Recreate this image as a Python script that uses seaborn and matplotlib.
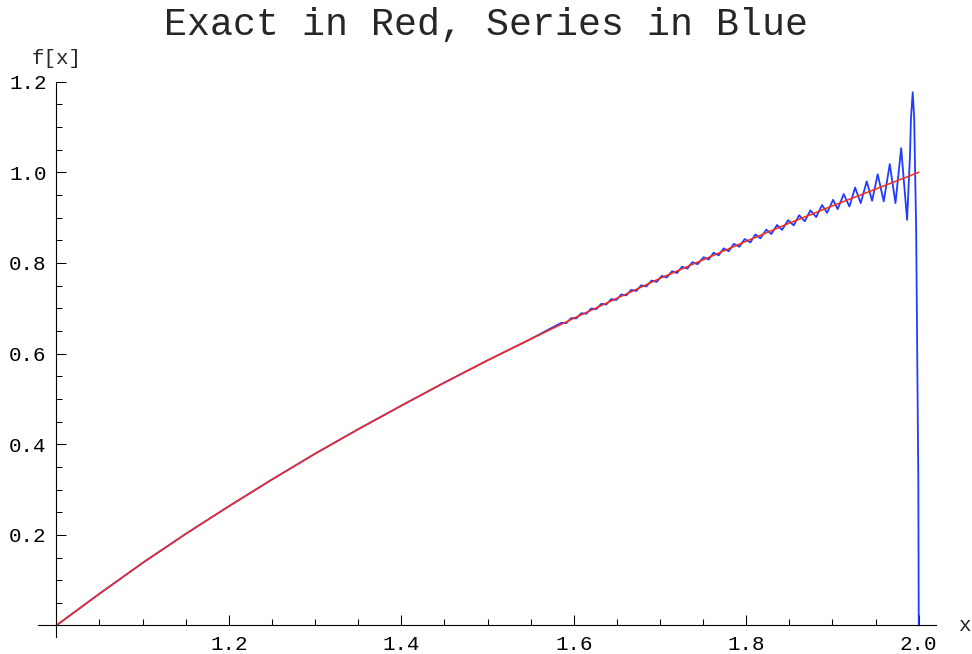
import matplotlib
matplotlib.use('Agg')
import seaborn as sns
import matplotlib.pyplot as plt
from matplotlib.ticker import MultipleLocator


TITLE = 'Exact in Red, Series in Blue'

# exact curve
exact_x = [1.00, 1.05, 1.10, 1.15, 1.20, 1.25, 1.30, 1.35, 1.40, 1.45, 1.50,
           1.55, 1.60, 1.65, 1.70, 1.75, 1.80, 1.85, 1.90, 1.95, 2.00]
exact_y = [0.000, 0.070, 0.138, 0.202, 0.263, 0.322, 0.379, 0.433, 0.485,
           0.536, 0.585, 0.632, 0.678, 0.722, 0.766, 0.807, 0.848, 0.888,
           0.926, 0.963, 1.000]

# series curve (peaks, crossings, troughs)
series_x = [1.00, 1.05, 1.10, 1.15, 1.20, 1.25, 1.30, 1.35, 1.40, 1.45, 1.50,
            1.55,
            1.5855, 1.5884, 1.5913, 1.5942, 1.5971, 1.6000, 1.6029, 1.6058, 1.6087, 1.6116,
            1.6145, 1.6174, 1.6203, 1.6232, 1.6261, 1.6290, 1.6319, 1.6348, 1.6377, 1.6406,
            1.6435, 1.6464, 1.6493, 1.6522, 1.6551, 1.6580, 1.6609, 1.6638, 1.6667, 1.6696,
            1.6725, 1.6754, 1.6783, 1.6812, 1.6841, 1.6872, 1.6903, 1.6932, 1.6961, 1.6991,
            1.7021, 1.7050, 1.7079, 1.7109, 1.7139, 1.7168, 1.7197, 1.7226, 1.7255, 1.7286,
            1.7317, 1.7346, 1.7375, 1.7406, 1.7436, 1.7471, 1.7506, 1.7535, 1.7564, 1.7593,
            1.7622, 1.7651, 1.7680, 1.7709, 1.7738, 1.7767, 1.7796, 1.7826, 1.7856, 1.7888,
            1.7920, 1.7951, 1.7981, 1.8015, 1.8048, 1.8077, 1.8106, 1.8135, 1.8164, 1.8199,
            1.8233, 1.8262, 1.8291, 1.8324, 1.8357, 1.8386, 1.8415, 1.8450, 1.8485, 1.8518,
            1.8550, 1.8582, 1.8613, 1.8646, 1.8678, 1.8711, 1.8744, 1.8777, 1.8810, 1.8845,
            1.8879, 1.8908, 1.8937,
            1.8972, 1.9007, 1.9034, 1.9060, 1.9095, 1.9130, 1.9163, 1.9196,
            1.9229, 1.9262, 1.9295, 1.9327, 1.9362, 1.9397, 1.9428, 1.9459,
            1.9492, 1.9524, 1.9559, 1.9594, 1.9629, 1.9664, 1.9697, 1.9730,
            1.9763, 1.9796, 1.9831, 1.9865, 1.9898, 1.9910, 1.9930, 1.9947,
            1.9970, 1.9995, 2.0000]
series_y = [0.000, 0.070, 0.138, 0.202, 0.263, 0.322, 0.379, 0.433, 0.485,
            0.536, 0.585, 0.632,
            0.6679, 0.6676, 0.6672, 0.6728, 0.6784, 0.6780, 0.6776, 0.6833, 0.6890, 0.6885,
            0.6879, 0.6937, 0.6995, 0.6988, 0.6981, 0.7040, 0.7098, 0.7091, 0.7083, 0.7143,
            0.7202, 0.7193, 0.7183, 0.7244, 0.7305, 0.7295, 0.7284, 0.7346, 0.7407, 0.7395,
            0.7382, 0.7445, 0.7508, 0.7495, 0.7481, 0.7547, 0.7612, 0.7597, 0.7582, 0.7648,
            0.7714, 0.7697, 0.7680, 0.7748, 0.7816, 0.7797, 0.7778, 0.7847, 0.7915, 0.7895,
            0.7875, 0.7946, 0.8017, 0.7995, 0.7973, 0.8050, 0.8127, 0.8102, 0.8076, 0.8151,
            0.8225, 0.8197, 0.8168, 0.8245, 0.8322, 0.8291, 0.8259, 0.8340, 0.8421, 0.8389,
            0.8357, 0.8442, 0.8526, 0.8491, 0.8455, 0.8542, 0.8629, 0.8586, 0.8543, 0.8640,
            0.8736, 0.8688, 0.8639, 0.8739, 0.8838, 0.8785, 0.8731, 0.8838, 0.8944, 0.8887,
            0.8829, 0.8941, 0.9052, 0.8986, 0.8920, 0.9041, 0.9162, 0.9087, 0.9011, 0.9145,
            0.9278, 0.9192, 0.9106,
            0.9250, 0.9393, 0.9291, 0.9188, 0.9354, 0.9519, 0.9382, 0.9245,
            0.9455, 0.9664, 0.9492, 0.9320, 0.9561, 0.9801, 0.9586, 0.9371,
            0.9664, 0.9956, 0.9658, 0.9360, 0.9771, 1.0181, 0.9751, 0.9320,
            0.9927, 1.0534, 0.9743, 0.8951, 1.0359, 1.1200, 1.1766, 1.1197,
            0.8731, 0.3212, 0.0000]

x_ticks = [1.2, 1.4, 1.6, 1.8, 2.0]
x_tick_labels = ['1.2', '1.4', '1.6', '1.8', '2.0']
y_ticks = [0.2, 0.4, 0.6, 0.8, 1.0, 1.2]
y_tick_labels = ['0.2', '0.4', '0.6', '0.8', '1.0', '1.2']

RED = '#ff2a14'
BLUE = '#1f3cff'

sns.set_style('white')
plt.rcParams['font.family'] = ['Liberation Mono', 'DejaVu Sans Mono']

fig = plt.figure(figsize=(9.72, 6.54), dpi=100)
ax = fig.add_axes([0.0391, 0.026, 0.9243, 0.8491])

sns.lineplot(x=series_x, y=series_y, color=BLUE, linewidth=1.3,
             estimator=None, sort=False, ax=ax)
sns.lineplot(x=exact_x, y=exact_y, color=RED, linewidth=1.1,
             estimator=None, sort=False, ax=ax)

ax.set_xlim(0.9788, 2.0205)
ax.set_ylim(-0.0254, 1.2)

# mathematica style axes crossing at (1, 0)
ax.spines['top'].set_visible(False)
ax.spines['right'].set_visible(False)
ax.spines['left'].set_position(('data', 1.0))
ax.spines['bottom'].set_position(('data', 0.0))
for side in ['left', 'bottom']:
    ax.spines[side].set_color('black')
    ax.spines[side].set_linewidth(0.8)

ax.set_xticks(x_ticks, x_tick_labels)
ax.set_yticks(y_ticks, y_tick_labels)
ax.xaxis.set_minor_locator(MultipleLocator(0.05))
ax.yaxis.set_minor_locator(MultipleLocator(0.05))
ax.tick_params(which='both', bottom=True, left=True, direction='in',
               color='black', width=0.75, labelsize=15, labelcolor='black')
ax.tick_params(which='major', length=7)
ax.tick_params(which='minor', length=4.5)
ax.tick_params(axis='x', pad=7)
ax.tick_params(axis='y', pad=7)
ax.set_xlabel('')
ax.set_ylabel('')

ax.annotate('f[x]', xy=(1.0, 1.2), xytext=(0, 17), textcoords='offset points',
            ha='center', va='center', fontsize=15)
ax.annotate('x', xy=(1.0, 0.0), xycoords=('axes fraction', 'data'),
            xytext=(20, 0), textcoords='offset points',
            ha='center', va='center', fontsize=15)

fig.text(0.5, 1 - 25 / 654, TITLE, ha='center', va='center', fontsize=27.5)

fig.savefig('out.png', dpi=100)
